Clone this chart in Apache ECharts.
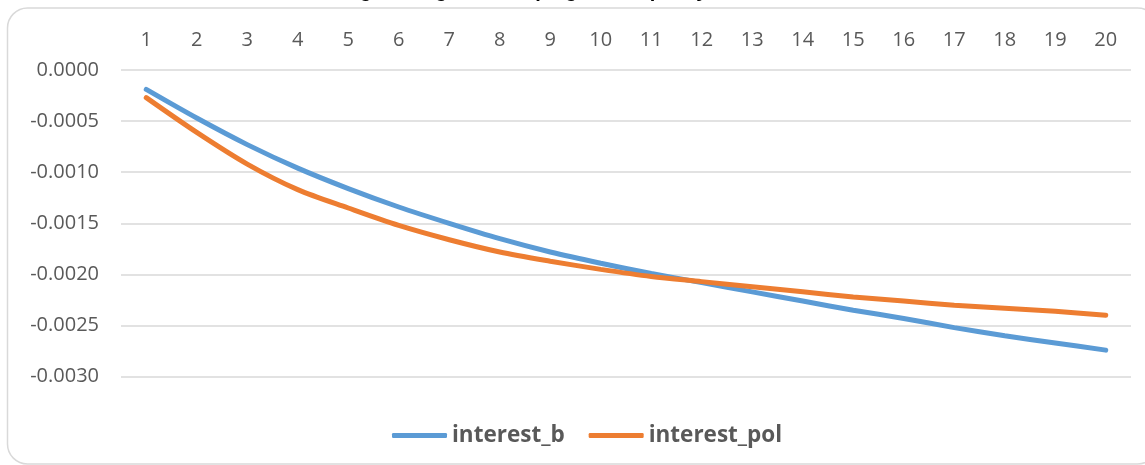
<!DOCTYPE html>
<html>
<head>
<meta charset="utf-8">
<style>html,body{margin:0;padding:0;background:#fff;}#c{width:1145px;height:465px;}</style>
<script src="https://cdn.jsdelivr.net/npm/echarts@6/dist/echarts.min.js"></script>
</head>
<body>
<div id="c"></div>
<script>
const titleText = 'Long leading and damping of rate policy';
const categories = ['1','2','3','4','5','6','7','8','9','10','11','12','13','14','15','16','17','18','19','20'];
const interestB = [-0.00019,-0.00047,-0.00073,-0.00096,-0.00116,-0.00134,-0.00150,-0.00165,-0.00178,-0.00189,-0.00199,-0.00208,-0.00217,-0.00226,-0.00235,-0.00243,-0.00252,-0.00260,-0.00267,-0.00274];
const interestPol = [-0.00027,-0.00061,-0.00092,-0.00117,-0.00135,-0.00152,-0.00166,-0.00178,-0.00187,-0.00195,-0.00202,-0.00207,-0.00212,-0.00217,-0.00222,-0.00226,-0.00230,-0.00233,-0.00236,-0.00240];
const seriesNames = ['interest_b','interest_pol'];
const colors = ['#5B9BD5','#ED7D31'];

const chart = echarts.init(document.getElementById('c'));
const font = 'Open Sans';
chart.setOption({
  animation: false,
  title: {
    text: titleText, left: 318, top: -24,
    textStyle: {fontFamily: 'Liberation Sans', fontSize: 20, fontWeight: 'bold', color: '#000'}
  },
  graphic: [{
    type: 'rect', z: -1,
    shape: {x: 7.5, y: 8, width: 1150, height: 456, r: 20},
    style: {fill: '#fff', stroke: '#d9d9d9', lineWidth: 1.5}
  }],
  grid: {left: 121, right: 14, top: 70, bottom: 88.3},
  legend: {
    data: seriesNames, top: 419, left: 387,
    icon: 'roundRect', itemWidth: 55, itemHeight: 5, itemGap: 24,
    textStyle: {fontFamily: font, fontSize: 22.5, fontWeight: 'bold', color: '#595959'}
  },
  xAxis: {
    type: 'category', position: 'top', data: categories, boundaryGap: true,
    axisLine: {show: false}, axisTick: {show: false},
    axisLabel: {margin: 20, fontFamily: font, fontSize: 20, color: '#595959'}
  },
  yAxis: {
    type: 'value', min: -0.003, max: 0, interval: 0.0005,
    axisLine: {show: false}, axisTick: {show: false},
    splitLine: {lineStyle: {color: '#d9d9d9', width: 1.5}},
    axisLabel: {margin: 22, fontFamily: font, fontSize: 20, color: '#595959',
      formatter: v => v.toFixed(4)}
  },
  series: [
    {name: seriesNames[0], type: 'line', data: interestB, smooth: 0.3, showSymbol: false,
      color: colors[0], lineStyle: {width: 5, cap: 'round', color: colors[0]}},
    {name: seriesNames[1], type: 'line', data: interestPol, smooth: 0.3, showSymbol: false,
      color: colors[1], lineStyle: {width: 5, cap: 'round', color: colors[1]}}
  ]
});
</script>
</body>
</html>
